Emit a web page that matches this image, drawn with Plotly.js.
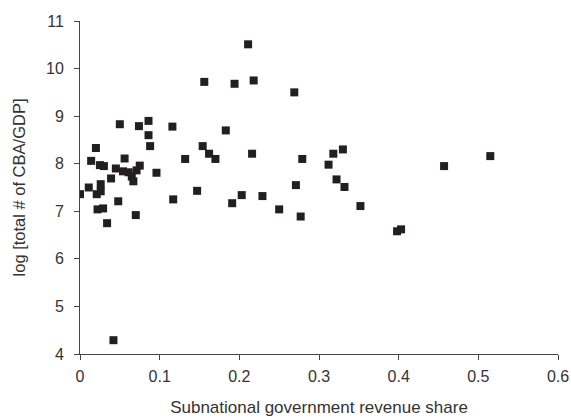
<!DOCTYPE html>
<html>
<head>
<meta charset="utf-8">
<script src="https://cdn.plot.ly/plotly-3.0.1.min.js"></script>
<style>html,body{margin:0;padding:0;background:#fff;}#chart{width:571px;height:420px;}</style>
</head>
<body>
<div id="chart"></div>
<script>
const revenueShare = [0.000,0.011,0.014,0.020,0.021,0.022,0.025,0.026,0.026,0.029,0.030,0.034,0.039,0.042,0.045,0.048,0.050,0.054,0.056,0.061,0.065,0.067,0.070,0.071,0.075,0.074,0.086,0.086,0.088,0.096,0.116,0.117,0.132,0.147,0.154,0.156,0.162,0.170,0.183,0.191,0.194,0.203,0.211,0.216,0.218,0.229,0.250,0.269,0.271,0.277,0.279,0.312,0.318,0.322,0.330,0.332,0.352,0.398,0.403,0.457,0.515];
const logCBA = [7.36,7.50,8.06,8.33,7.36,7.04,7.97,7.57,7.42,7.06,7.95,6.75,7.69,4.29,7.90,7.21,8.83,7.84,8.11,7.82,7.73,7.63,6.92,7.86,7.96,8.79,8.90,8.60,8.37,7.81,8.78,7.25,8.10,7.43,8.37,9.72,8.21,8.10,8.70,7.17,9.68,7.34,10.51,8.21,9.75,7.32,7.04,9.50,7.55,6.89,8.10,7.98,8.21,7.67,8.30,7.51,7.11,6.58,6.62,7.95,8.16];
const xTicks = [0,0.1,0.2,0.3,0.4,0.5,0.6];
const xTickText = ['0','0.1','0.2','0.3','0.4','0.5','0.6'];
const yTicks = [4,5,6,7,8,9,10,11];

const font = {family: 'Liberation Sans, Arial, sans-serif', color: '#333', size: 16};
Plotly.newPlot('chart', [{
  x: revenueShare, y: logCBA, type: 'scatter', mode: 'markers',
  marker: {symbol: 'square', size: 8, color: '#231f20'}
}], {
  width: 571, height: 420,
  margin: {l: 80, r: 13, t: 21, b: 66},
  paper_bgcolor: '#fff', plot_bgcolor: '#fff',
  showlegend: false,
  font: font,
  xaxis: {
    range: [0, 0.6], tickvals: xTicks, ticktext: xTickText,
    showline: true, linecolor: '#444', linewidth: 1, ticks: 'outside', ticklen: 5, tickcolor: '#444',
    showgrid: false, zeroline: false, tickfont: {size: 16, color: '#333'}, ticklabelstandoff: 3,
    title: {text: 'Subnational government revenue share', font: {size: 17, color: '#333'}, standoff: 16}
  },
  yaxis: {
    range: [4, 11], tickvals: yTicks,
    showline: true, linecolor: '#444', linewidth: 1, ticks: 'outside', ticklen: 5, tickcolor: '#444',
    showgrid: false, zeroline: false, tickfont: {size: 16, color: '#333'}, ticklabelstandoff: 7,
    title: {text: 'log [total # of CBA/GDP]', font: {size: 16.5, color: '#333'}, standoff: 16}
  }
}, {displayModeBar: false, staticPlot: true});
</script>
</body>
</html>
